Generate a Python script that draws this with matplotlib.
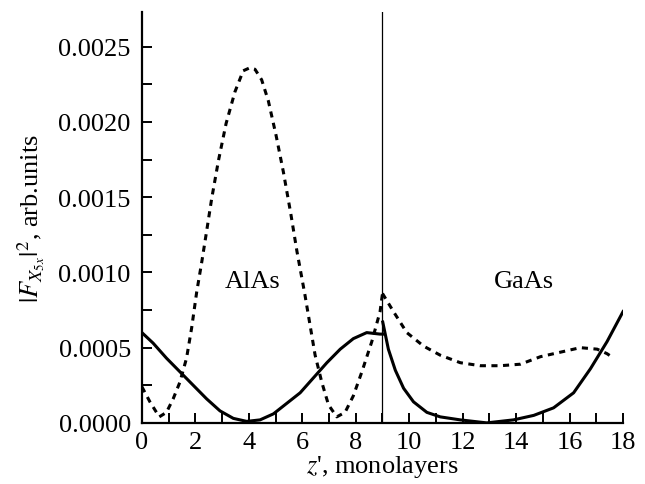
import matplotlib.pyplot as plt
from matplotlib.ticker import MultipleLocator

plt.rcParams['font.family'] = ['Liberation Serif', 'DejaVu Serif']
plt.rcParams['mathtext.fontset'] = 'stix'

# solid curve, AlAs side (z' < 9) and GaAs side (z' >= 9)
z_solid_alas = [0, 0.42, 0.92, 1.42, 1.92, 2.42, 2.92, 3.42, 3.92, 4.42, 4.92, 5.42, 5.92,
                6.42, 6.92, 7.42, 7.91, 8.41, 8.91, 9.0]
f_solid_alas = [0.0006, 0.00053, 0.00043, 0.00034, 0.00025, 0.00016, 0.00008, 0.00003, 0.00001,
                0.00002, 0.00006, 0.00013, 0.0002, 0.0003, 0.0004, 0.00049, 0.00056, 0.0006,
                0.00059, 0.00059]
z_solid_gaas = [9.01, 9.22, 9.48, 9.79, 10.16, 10.66, 11.16, 11.91, 12.9, 13.9, 14.66, 15.4,
                16.15, 16.78, 17.4, 18.0]
f_solid_gaas = [0.00067, 0.00049, 0.00035, 0.00023, 0.00014, 0.00007, 0.00004, 0.00002, 0.0,
                0.00002, 0.00005, 0.0001, 0.0002, 0.00036, 0.00054, 0.00074]

# dashed curve
z_dash_alas = [0.0, 0.3, 0.65, 0.92, 1.17, 1.42, 1.67, 1.86, 2.05, 2.24, 2.4, 2.61, 2.86, 3.15,
               3.48, 3.79, 4.04, 4.23, 4.48, 4.73, 5.02, 5.29, 5.57, 5.8, 6.1, 6.29, 6.48, 6.73,
               6.98, 7.29, 7.6, 7.91, 8.23, 8.6, 8.91, 9.0]
f_dash_alas = [0.00024, 0.00014, 0.00004, 0.00007, 0.00016, 0.00027, 0.00043, 0.00063, 0.00087,
               0.00107, 0.00125, 0.00149, 0.00174, 0.00199, 0.0022, 0.00234, 0.00236, 0.00235,
               0.00228, 0.00214, 0.00191, 0.00167, 0.00139, 0.00114, 0.00085, 0.00065, 0.00045,
               0.00027, 0.00012, 0.00004, 0.00007, 0.00018, 0.00034, 0.00054, 0.00074, 0.00086]
z_dash_gaas = [9.0, 9.41, 9.91, 10.54, 11.16, 11.91, 12.66, 13.41, 14.16, 14.91, 15.66, 16.4,
               17.03, 17.4, 17.65]
f_dash_gaas = [0.00086, 0.00074, 0.0006, 0.00051, 0.00045, 0.0004, 0.00038, 0.00038, 0.00039,
               0.00044, 0.00047, 0.0005, 0.00049, 0.00046, 0.00043]

fig = plt.figure(figsize=(6.45, 4.85), dpi=100)
ax = fig.add_axes([0.22, 0.126, 0.746, 0.847])

lw = 2.2
ax.plot(z_solid_alas, f_solid_alas, color='black', lw=lw)
ax.plot(z_solid_gaas, f_solid_gaas, color='black', lw=lw)
ax.plot(z_dash_alas, f_dash_alas, color='black', lw=lw, linestyle=(0, (2, 1.8)))
ax.plot(z_dash_gaas, f_dash_gaas, color='black', lw=lw, linestyle=(0, (2, 1.8)))
ax.axvline(9, color='black', lw=0.9)

ax.text(4.15, 0.00094, 'AlAs', fontsize=19, ha='center', va='center')
ax.text(14.3, 0.00094, 'GaAs', fontsize=19, ha='center', va='center')

ax.set_xlim(0, 18)
ax.set_ylim(0, 0.00273)
ax.xaxis.set_major_locator(MultipleLocator(2))
ax.xaxis.set_minor_locator(MultipleLocator(1))
ax.yaxis.set_major_locator(MultipleLocator(0.0005))
ax.yaxis.set_minor_locator(MultipleLocator(0.00025))
ax.yaxis.set_major_formatter(plt.FormatStrFormatter('%.4f'))

for s in ['top', 'right']:
    ax.spines[s].set_visible(False)
for s in ['left', 'bottom']:
    ax.spines[s].set_linewidth(1.6)
ax.tick_params(which='both', direction='in', width=1.4, length=7, labelsize=19)
ax.tick_params(axis='x', pad=6)
ax.tick_params(axis='y', pad=8)

ax.set_xlabel(r"$z$', monolayers", fontsize=19, labelpad=0)
ax.set_ylabel(r'$|F_{X_{5x}}|^2$, arb.units', fontsize=19, labelpad=8)

fig.savefig('out.png', dpi=100)
